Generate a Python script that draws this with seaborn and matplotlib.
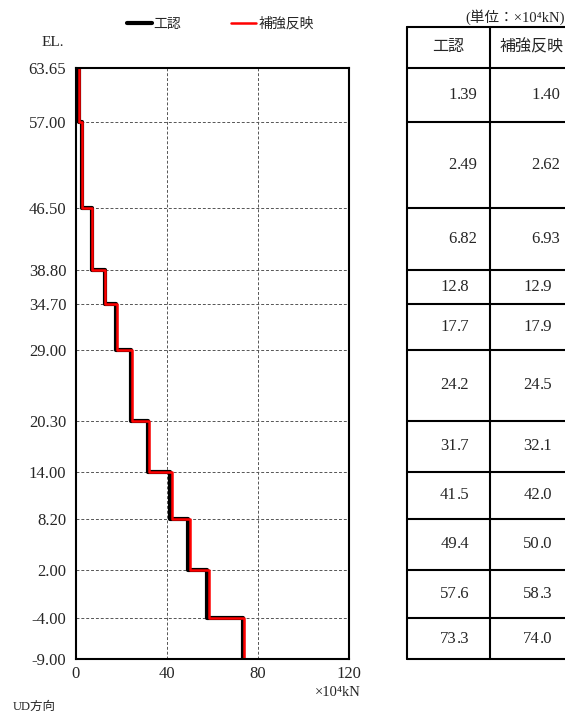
import numpy as np
import pandas as pd
import matplotlib
matplotlib.use("Agg")
import matplotlib.pyplot as plt
from matplotlib.lines import Line2D
import seaborn as sns

# elevation levels (top to bottom) and axial force per segment (x10^4 kN)
elevations = [63.65, 57.00, 46.50, 38.80, 34.70, 29.00, 20.30, 14.00, 8.20, 2.00, -4.00, -9.00]
elev_labels = ["63.65", "57.00", "46.50", "38.80", "34.70", "29.00", "20.30",
               "14.00", "8.20", "2.00", "-4.00", "-9.00"]
kounin = [1.39, 2.49, 6.82, 12.8, 17.7, 24.2, 31.7, 41.5, 49.4, 57.6, 73.3]
hokyo = [1.40, 2.62, 6.93, 12.9, 17.9, 24.5, 32.1, 42.0, 50.0, 58.3, 74.0]
kounin_txt = ["1.39", "2.49", "6.82", "12.8", "17.7", "24.2", "31.7", "41.5", "49.4", "57.6", "73.3"]
hokyo_txt = ["1.40", "2.62", "6.93", "12.9", "17.9", "24.5", "32.1", "42.0", "50.0", "58.3", "74.0"]
series_names = ["工認", "補強反映"]
x_ticks = [0, 40, 80, 120]

sns.set_style("white")
plt.rcParams["font.family"] = ["Liberation Serif", "Noto Sans CJK JP"]


def step_frame(vals, name):
    # vertices of a vertical step line: each value spans one elevation segment
    rows = []
    for i, v in enumerate(vals):
        rows.append((v, elevations[i], name))
        rows.append((v, elevations[i + 1], name))
    return pd.DataFrame(rows, columns=["force", "el", "case"])


df = pd.concat([step_frame(kounin, series_names[0]), step_frame(hokyo, series_names[1])],
               ignore_index=True)

fig = plt.figure(figsize=(5.65, 7.16), dpi=100)
ax = fig.add_axes([0.1345, 0.0796, 0.4832, 0.8254])

sns.lineplot(data=df[df.case == series_names[0]], x="force", y="el", sort=False,
             estimator=None, color="black", lw=3.0, ax=ax, legend=False)
sns.lineplot(data=df[df.case == series_names[1]], x="force", y="el", sort=False,
             estimator=None, color="red", lw=1.8, ax=ax, legend=False)

ax.set_xlim(0, 120)
ax.set_ylim(elevations[-1], elevations[0])
ax.set_xticks(x_ticks)
ax.set_yticks(elevations)
ax.set_yticklabels(elev_labels)
ax.set_xlabel("")
ax.set_ylabel("")
ax.tick_params(length=0, labelsize=12, pad=7)
ax.tick_params(axis="x", pad=5)
ax.grid(True, ls=(0, (3, 2)), color="#555555", lw=0.7)
for s in ax.spines.values():
    s.set_color("black")
    s.set_linewidth(1.5)

# legend
handles = [Line2D([], [], color="black", lw=3), Line2D([], [], color="red", lw=1.8)]
fig.legend(handles, series_names, loc="center", bbox_to_anchor=(0.39, 0.966), ncol=2,
           frameon=False, fontsize=10, handlelength=1.8, handletextpad=0.15,
           columnspacing=3.6)

fig.text(0.074, 0.941, "EL.", fontsize=11, ha="left", va="center")
fig.text(0.638, 0.033, "×10⁴kN", fontsize=10.5, ha="right", va="center")
fig.text(0.023, 0.013, "UD方向", fontsize=9, ha="left", va="center")
fig.text(0.999, 0.976, "(単位：×10⁴kN)", fontsize=10.5, ha="right", va="center")

# table on the right, rows aligned with elevations
top = elevations[0] + 5.04
tax = fig.add_axes([0.7204, 0.0796, 0.2938, 0.8827])
tax.set_xlim(0, 2)
tax.set_ylim(elevations[-1], top)
tax.axis("off")
for e in elevations + [top]:
    tax.plot([0, 2], [e, e], color="black", lw=1.5, clip_on=False)
for xv in [0, 1, 2]:
    tax.plot([xv, xv], [elevations[-1], top], color="black", lw=1.5, clip_on=False)
for c, name in enumerate(series_names):
    tax.text(c + 0.5, (top + elevations[0]) / 2, name, ha="center", va="center", fontsize=11.5)
for c, txts in enumerate([kounin_txt, hokyo_txt]):
    for i, t in enumerate(txts):
        ymid = (elevations[i] + elevations[i + 1]) / 2
        ip, fp = t.split(".")
        tax.text(c + 0.6, ymid, ip, ha="right", va="center", fontsize=12)
        tax.text(c + 0.6, ymid, "." + fp, ha="left", va="center", fontsize=12)

fig.savefig("out.png", dpi=100)
